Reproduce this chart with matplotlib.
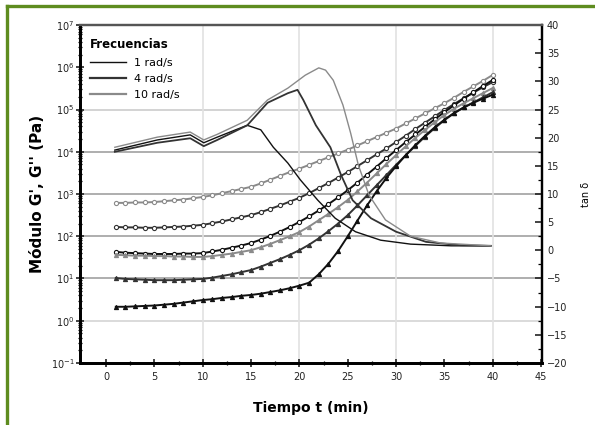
import numpy as np
import matplotlib
matplotlib.use("Agg")
import matplotlib.pyplot as plt
from matplotlib.lines import Line2D

plt.rcParams['font.family'] = ['Liberation Sans Narrow', 'DejaVu Sans']

# tiempo (min) de las medidas de modulos
t = list(range(1, 41))

# log10 del modulo (Pa)
gpp_10 = [2.79, 2.79, 2.80, 2.80, 2.81, 2.83, 2.85, 2.87, 2.90, 2.93,
          2.97, 3.02, 3.07, 3.12, 3.17, 3.25, 3.34, 3.43, 3.52, 3.60,
          3.69, 3.78, 3.87, 3.96, 4.05, 4.15, 4.25, 4.35, 4.45, 4.55,
          4.67, 4.79, 4.91, 5.03, 5.15, 5.28, 5.42, 5.55, 5.68, 5.82]
gpp_4 = [2.22, 2.21, 2.21, 2.20, 2.20, 2.21, 2.22, 2.23, 2.25, 2.27,
         2.31, 2.35, 2.40, 2.45, 2.50, 2.57, 2.65, 2.73, 2.82, 2.91,
         3.02, 3.14, 3.26, 3.39, 3.52, 3.66, 3.80, 3.94, 4.08, 4.23,
         4.38, 4.54, 4.69, 4.84, 4.99, 5.13, 5.27, 5.40, 5.53, 5.65]
gpp_1 = [1.63, 1.61, 1.60, 1.59, 1.58, 1.58, 1.58, 1.59, 1.59, 1.60,
         1.64, 1.68, 1.73, 1.78, 1.84, 1.92, 2.01, 2.11, 2.22, 2.34,
         2.47, 2.61, 2.76, 2.92, 3.09, 3.27, 3.46, 3.65, 3.85, 4.04,
         4.23, 4.41, 4.59, 4.77, 4.94, 5.10, 5.26, 5.41, 5.56, 5.70]
gp_10 = [1.56, 1.55, 1.54, 1.54, 1.53, 1.53, 1.52, 1.52, 1.51, 1.51,
         1.53, 1.56, 1.59, 1.63, 1.67, 1.74, 1.82, 1.91, 2.00, 2.10,
         2.23, 2.38, 2.53, 2.69, 2.86, 3.06, 3.27, 3.49, 3.71, 3.92,
         4.13, 4.33, 4.52, 4.70, 4.87, 5.02, 5.15, 5.27, 5.39, 5.51]
gp_4 = [1.01, 0.99, 0.98, 0.97, 0.96, 0.96, 0.96, 0.97, 0.98, 0.99,
        1.02, 1.06, 1.10, 1.15, 1.20, 1.28, 1.37, 1.46, 1.56, 1.67,
        1.80, 1.95, 2.12, 2.30, 2.50, 2.73, 2.97, 3.21, 3.45, 3.69,
        3.92, 4.14, 4.36, 4.56, 4.75, 4.91, 5.05, 5.17, 5.29, 5.41]
gp_1 = [0.33, 0.33, 0.34, 0.35, 0.36, 0.38, 0.40, 0.43, 0.46, 0.49,
        0.51, 0.54, 0.56, 0.59, 0.61, 0.64, 0.68, 0.72, 0.77, 0.83,
        0.90, 1.10, 1.35, 1.65, 2.00, 2.37, 2.73, 3.07, 3.38, 3.66,
        3.92, 4.16, 4.38, 4.58, 4.76, 4.92, 5.05, 5.16, 5.26, 5.35]

# tan delta (eje derecho)
tan_t_1 = [0.9, 5.3, 8.7, 10.1, 11.5, 13.4, 14.6, 16.0, 17.3, 18.8, 20.1,
           21.9, 23.7, 25.8, 28.4, 31.5, 35.7, 39.8]
tan_1 = [17.8, 19.6, 20.5, 19.1, 20.1, 21.4, 22.2, 21.4, 18.3, 15.5, 12.5,
         8.9, 5.7, 3.3, 1.8, 1.1, 0.8, 0.8]
tan_t_4 = [0.9, 5.3, 8.7, 10.1, 11.5, 14.6, 16.7, 18.8, 19.8, 20.4, 21.7,
           23.2, 24.3, 25.5, 27.4, 30.0, 33.1, 36.7, 39.8]
tan_4 = [17.5, 19.1, 19.9, 18.5, 19.6, 22.2, 26.2, 27.9, 28.5, 26.7, 22.2,
         18.3, 13.4, 8.9, 5.7, 3.3, 1.5, 0.9, 0.8]
tan_t_10 = [0.9, 5.3, 8.7, 10.1, 11.5, 14.6, 16.7, 18.8, 20.6, 22.0, 22.7,
            23.5, 24.5, 25.3, 26.1, 27.2, 28.9, 31.5, 34.6, 39.8]
tan_10 = [18.3, 20.1, 21.0, 19.6, 20.6, 23.1, 26.7, 28.8, 31.1, 32.4, 32.0,
          30.2, 25.8, 20.8, 15.1, 9.8, 5.4, 2.5, 1.3, 0.8]

freq_labels = ['1 rad/s', '4 rad/s', '10 rad/s']
xticks = [0, 5, 10, 15, 20, 25, 30, 35, 40, 45]
tan_ticks = [40, 35, 30, 25, 20, 15, 10, 5, 0, -5, -10, -15, -20]

c1, c4, c10 = '#111111', '#333333', '#8a8a8a'

fig = plt.figure(figsize=(5.95, 4.25), dpi=100)
ax = fig.add_axes([0.1345, 0.146, 0.7765, 0.795])

# rejilla
for lv, col in [(1e0, '#d8d8d8'), (1e1, '#a8a8a8'), (1e2, '#a8a8a8'),
                (1e3, '#a8a8a8'), (1e4, '#a8a8a8'), (1e5, '#d0d0d0')]:
    ax.axhline(lv, color=col, lw=1.3, zorder=0)
for xv in [10, 20, 30, 40]:
    ax.axvline(xv, color='#e2e2e2', lw=1.2, zorder=0)

curves = [(gpp_10, c10, 'o', 'white'), (gpp_4, c4, 'o', 'white'),
          (gpp_1, c1, 'o', 'white'), (gp_10, c10, '^', c10),
          (gp_4, c4, '^', c4), (gp_1, c1, '^', c1)]
for vals, col, mk, fc in curves:
    ax.plot(t, np.power(10.0, vals), color=col, lw=1.4, marker=mk,
            ms=3.0, mfc=fc, mec=col, mew=0.8, zorder=3)

ax.set_yscale('log')
ax.set_ylim(1e-1, 1e7)
ax.set_xlim(-2.7, 45.1)
ax.set_xticks(xticks)
ax.set_xticks(np.arange(2.5, 45, 5), minor=True)
ax.set_yticks([10.0 ** k for k in range(-1, 8)])
ax.set_yticklabels(['$10^{%d}$' % k for k in range(-1, 8)])
ax.tick_params(axis='both', which='major', direction='inout', length=6,
               width=1.2, labelsize=7, colors='#222222')
ax.tick_params(axis='both', which='minor', direction='inout', length=3,
               width=0.9)
ax.tick_params(axis='y', pad=1)

ax2 = ax.twinx()
ax2.plot(tan_t_1, tan_1, color=c1, lw=1.0, zorder=4)
ax2.plot(tan_t_4, tan_4, color=c4, lw=1.3, zorder=4)
ax2.plot(tan_t_10, tan_10, color=c10, lw=1.0, zorder=4)
ax2.set_ylim(-20, 40)
ax2.set_yticks(tan_ticks)
ax2.set_yticks(np.arange(-17.5, 40, 5), minor=True)
ax2.tick_params(axis='y', which='major', direction='in', length=5,
                width=1.2, labelsize=7, colors='#222222')
ax2.tick_params(axis='y', which='minor', direction='in', length=3, width=0.9)

for a in (ax, ax2):
    a.spines['left'].set_linewidth(2.0)
    a.spines['bottom'].set_linewidth(2.0)
    a.spines['right'].set_linewidth(1.6)
    a.spines['top'].set_linewidth(1.6)
    a.spines['top'].set_color('#555555')

ax.set_xlabel('Tiempo t (min)', fontsize=10, fontweight='bold', labelpad=14)
ax.set_ylabel("Módulo G', G'' (Pa)", fontsize=11, fontweight='bold',
              labelpad=4)
ax2.set_ylabel('tan δ', fontsize=7, rotation=90, labelpad=10)

handles = [Line2D([], [], color=c1, lw=1.0), Line2D([], [], color=c4, lw=1.6),
           Line2D([], [], color=c10, lw=1.6)]
leg = ax2.legend(handles, freq_labels, title='Frecuencias', loc='upper left',
                 frameon=False, fontsize=8, title_fontsize=8.5,
                 handlelength=3.2, labelspacing=0.55,
                 bbox_to_anchor=(0.0, 0.99))
leg.get_title().set_fontweight('bold')
leg._legend_box.align = 'left'

# borde verde de la figura
green = '#5e8c1f'
fig.add_artist(Line2D([0.011, 0.011], [0.0, 0.985], color=green, lw=2.4,
                      transform=fig.transFigure))
fig.add_artist(Line2D([0.011, 1.0], [0.985, 0.985], color=green, lw=2.4,
                      transform=fig.transFigure))

fig.savefig('out.png', dpi=100)
